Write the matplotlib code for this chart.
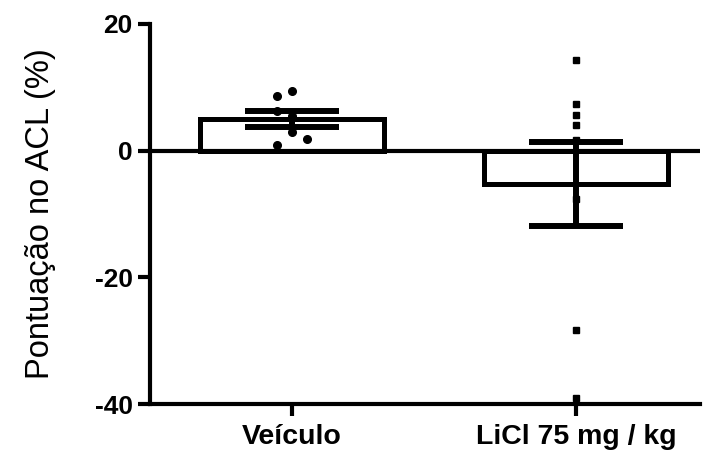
import numpy as np
import matplotlib.pyplot as plt

plt.rcParams['font.family'] = ['Liberation Sans', 'DejaVu Sans']
plt.rcParams['axes.unicode_minus'] = False

groups = ['Veículo', 'LiCl 75 mg / kg']
veiculo = [9.4, 8.7, 6.2, 5.4, 2.9, 1.9, 0.9]
veiculo_jitter = [0, -1, -1, 0, 0, 1, -1]
licl = [14.3, 7.4, 5.7, 4.1, 1.7, -7.7, -28.3, -39.0]
licl_jitter = [0, 0, 0, 0, 0, 0, 0, 0]

means = [np.mean(veiculo), np.mean(licl)]
sems = [np.std(veiculo, ddof=1) / np.sqrt(len(veiculo)),
        np.std(licl, ddof=1) / np.sqrt(len(licl))]

fig = plt.figure(figsize=(7.08, 4.55), dpi=100)
ax = fig.add_axes([150 / 708, 1 - 404 / 455, 550 / 708, 380 / 455])

x = np.arange(len(groups))
ax.bar(x, means, width=0.65, color='white', edgecolor='black', linewidth=3.6, zorder=2)
ax.axhline(0, color='black', lw=3, zorder=3)

step = 0.053
ax.plot(x[0] + np.array(veiculo_jitter) * step, veiculo, 'o', color='black', ms=5.5, zorder=4)
ax.plot(x[1] + np.array(licl_jitter) * step, licl, 's', color='black', ms=5, zorder=4)

ax.errorbar(x, means, yerr=sems, fmt='none', ecolor='black', elinewidth=4.3,
            capsize=34, capthick=4.3, zorder=5)

ax.set_xlim(-0.5, 1.437)
ax.set_ylim(-40, 20)
ax.set_yticks([-40, -20, 0, 20])
ax.set_xticks(x)
ax.set_xticklabels(groups)
for side in ['top', 'right']:
    ax.spines[side].set_visible(False)
for side in ['left', 'bottom']:
    ax.spines[side].set_linewidth(3)
ax.tick_params(axis='both', length=8.5, width=3, labelsize=19, pad=4)
ax.tick_params(axis='x', labelsize=20.5, pad=6)
for lab in ax.get_xticklabels() + ax.get_yticklabels():
    lab.set_fontweight('bold')
ax.set_ylabel('Pontuação no ACL (%)', fontsize=23.5, labelpad=28)

fig.savefig('out.png', dpi=100)
